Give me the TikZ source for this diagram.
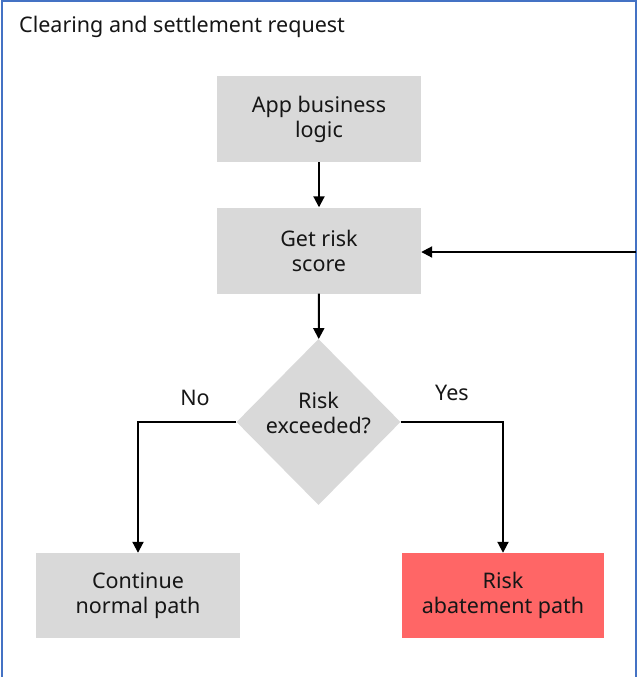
\documentclass[tikz,border=0pt]{standalone}
\usepackage{fontspec}
\setmainfont{Noto Sans}
\usetikzlibrary{shapes.geometric,arrows.meta}
\definecolor{boxgray}{HTML}{D9D9D9}
\definecolor{riskred}{HTML}{FF6666}
\definecolor{framblue}{HTML}{4472C4}
\definecolor{inkdark}{HTML}{161616}
\tikzset{
  lbl/.style={font=\fontsize{21.5}{25}\selectfont, text=inkdark, align=center, inner sep=0pt},
  stepbox/.style={lbl, fill=boxgray, minimum width=204pt, minimum height=86pt},
  decision/.style={diamond, fill=boxgray, minimum width=164pt,
    minimum height=166pt, inner sep=0pt},
  flow/.style={line width=2pt, -{Triangle[width=11pt,length=11pt]}},
}
\begin{document}
\begin{tikzpicture}[x=1pt,y=-1pt]
\useasboundingbox (0,0) rectangle (638,677);
% outer frame (open at the bottom)
\draw[framblue, line width=1.3pt] (2,677) -- (2,1) -- (636,1) -- (636,677);
\node[lbl, anchor=west] (title) at (19,27) {Clearing and settlement request};

\node[stepbox] (app) at (319,119) {App business\\logic};
\node[stepbox] (score) at (319,250.5) {Get risk\\score};
\node[decision] (dec) at (318.5,422) {};
\node[lbl] (dectext) at (318.5,413) {Risk\\exceeded?};
\node[stepbox, minimum height=85pt] (normal) at (138,595.5) {Continue\\normal path};
\node[stepbox, fill=riskred, minimum width=202pt, minimum height=85pt] (abate) at (503,595.5) {Risk\\abatement path};

\coordinate (feed) at (636,252);
\coordinate (nocorner) at (138,422);
\coordinate (yescorner) at (503,422);

\draw[flow] (app) -- (score);
\draw[flow] (score) -- (dec);
\draw[flow] (feed) -- (feed -| score.east);
\draw[flow] (dec.west) -- (nocorner) -- (normal.north);
\draw[flow] (dec.east) -- (yescorner) -- (abate.north);

\node[lbl] (nolbl) at (195,398) {No};
\node[lbl] (yeslbl) at (452,393) {Yes};
\end{tikzpicture}
\end{document}
